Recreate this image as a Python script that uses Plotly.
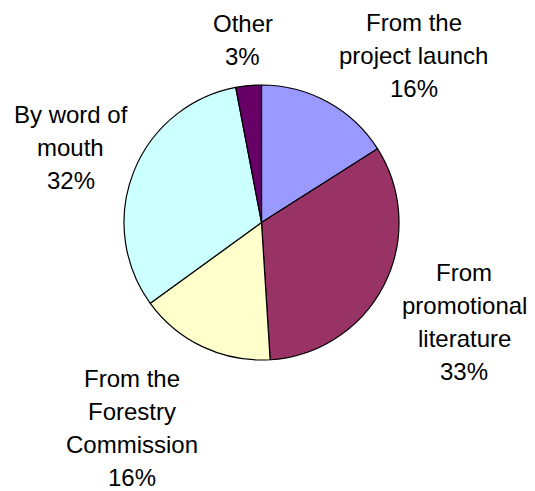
import plotly.graph_objects as go

labels = ["From the<br>project launch", "From<br>promotional<br>literature",
          "From the<br>Forestry<br>Commission", "By word of<br>mouth", "Other"]
values = [16, 33, 16, 32, 3]
colors = ["#9999FF", "#993366", "#FFFFCC", "#CCFFFF", "#660066"]

W, H = 535, 491
cx, cy, r = 261.5, 222.5, 137.5

fig = go.Figure(go.Pie(
    labels=labels, values=values, sort=False, direction="clockwise", rotation=0,
    marker=dict(colors=colors, line=dict(color="black", width=1.2)),
    textinfo="none", hoverinfo="label+percent", showlegend=False,
    domain=dict(x=[(cx - r) / W, (cx + r) / W], y=[(H - cy - r) / H, (H - cy + r) / H]),
))

# label block centres (pixels from top-left)
label_pos = [(413.5, 55.5), (464, 322), (131.5, 427.5), (70.5, 147), (242.5, 40)]
line_gap = 33
total = sum(values)
for lab, v, (x, y) in zip(labels, values, label_pos):
    lines = lab.split("<br>") + [f"{round(100 * v / total)}%"]
    n = len(lines)
    for i, ln in enumerate(lines):
        ly = y + (i - (n - 1) / 2) * line_gap
        fig.add_annotation(
            x=x / W, y=1 - ly / H, xref="paper", yref="paper",
            text=ln, showarrow=False, xanchor="center", yanchor="middle",
            font=dict(family="Liberation Sans, Arial, sans-serif", size=24, color="black"),
        )

fig.update_layout(
    width=W, height=H, margin=dict(l=0, r=0, t=0, b=0),
    paper_bgcolor="white", plot_bgcolor="white",
)
fig.write_html("out.html", config={"displayModeBar": False},
               post_script="document.body.style.margin='0';")
